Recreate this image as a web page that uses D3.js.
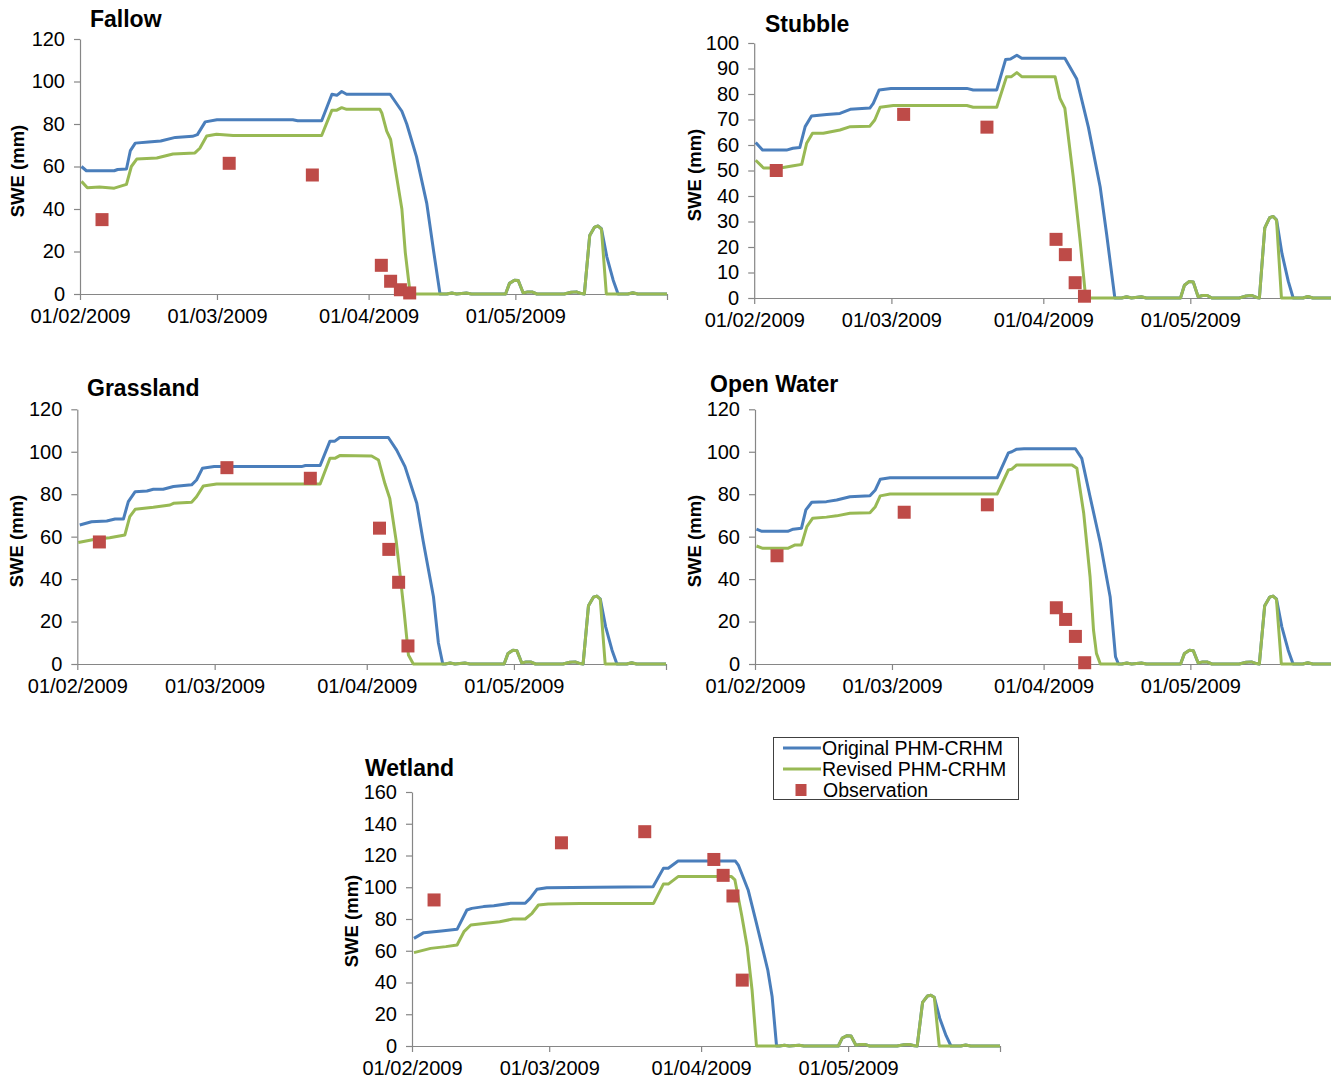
<!DOCTYPE html>
<html>
<head>
<meta charset="utf-8">
<script src="https://cdn.jsdelivr.net/npm/d3@7"></script>
<style>
  html, body { margin: 0; padding: 0; background: #fff; }
  svg { display: block; font-family: "Liberation Sans", Arial, sans-serif; }
</style>
</head>
<body>
<svg id="chart" width="1331" height="1082"></svg>
<script>
// ---------------- DATA (day offset from 01/02/2009, SWE in mm) ----------------
const monthTicks = ["2009-02-01", "2009-03-01", "2009-04-01", "2009-05-01", "2009-06-01"];
const labelledTicks = ["2009-02-01", "2009-03-01", "2009-04-01", "2009-05-01"];

const obsDays = [4.5, 30.5, 47.5, 61.6, 63.5, 65.5, 67.4];

// late-season part shared by all panels (after the main melt)
const tailRevised = [[75,0],[76,0.5],[77,0],[79,0.5],[80,0],[87,0],[87.8,5],[88.8,6.5],[89.6,6.3],[90.6,0.5],[91.5,1],[92.4,1],[93.4,0],[99,0],[100.4,0.8],[101.5,1],[102.5,0.2],[103.1,0],[104.2,27.5],[105.2,31.5],[105.9,32],[106.6,30.5],[107.6,0],[112,0],[113,0.6],[114,0],[120,0]];
const tailOriginal = [[75,0],[76,0.5],[77,0],[79,0.5],[80,0],[87,0],[87.8,5],[88.8,6.5],[89.6,6.3],[90.6,0.5],[91.5,1],[92.4,1],[93.4,0],[99,0],[100.4,0.8],[101.5,1],[102.5,0.2],[103.1,0],[104.2,27.5],[105.2,31.5],[105.9,32],[106.6,30.7],[107.7,17.5],[109,6.5],[110,0],[112,0],[113,0.6],[114,0],[120,0]];

const fallowOriginal = [[0.3,60],[1.3,58],[7,58],[7.7,58.6],[9.5,58.8],[10.3,67.5],[11.3,71],[14,71.5],[16.5,72],[19.5,73.7],[23,74.2],[24,75],[25.6,81],[28,82],[43.5,82],[44.5,81.5],[49.4,81.5],[51.5,94],[52.5,93.5],[53.5,95.3],[54.5,94],[63.4,94],[65.8,86],[66.8,80],[68.8,64.5],[70.9,42.5],[72.3,20],[73.6,0]];
const fallowRevised = [[0.3,53],[1.5,50],[4,50.3],[7,49.8],[9.5,51.6],[10.5,60],[11.6,63.5],[15.7,64],[19,65.9],[23.5,66.4],[24.5,68.6],[25.9,74.4],[27.9,75.2],[31.3,74.6],[49.4,74.6],[51.5,86.5],[52.5,86.5],[53.5,87.7],[54.5,86.9],[61.3,86.9],[61.7,85.2],[62.7,76.6],[63.5,72.7],[64.7,55.5],[65.8,40],[66.5,19.5],[67.5,0]];
const fallowObs = [35, 61.5, 56, 13.5, 6, 2, 0.5];

const stubbleOriginal = [[0.3,61],[1.7,58],[6.6,58],[7.9,58.7],[9.3,59],[10.4,67.2],[11.7,71.4],[14.8,72],[17.5,72.4],[19.6,74],[23.6,74.5],[24.3,76.3],[25.5,81.6],[27.9,82.2],[43.4,82.2],[44.7,81.6],[49.5,81.6],[51.3,93.5],[52.3,93.7],[53.6,95.2],[54.6,94],[63.4,94],[65.8,86],[68.2,67],[70.6,43.6],[71.9,25.4],[73.6,0]];
const stubbleRevised = [[0.3,54],[1.9,51],[5.3,51],[8,51.9],[9.7,52.4],[10.7,60.7],[11.9,64.6],[14.1,64.6],[17.5,65.9],[19.6,67.2],[23.6,67.4],[24.6,69.8],[25.7,74.8],[28.4,75.5],[43.4,75.5],[44.7,74.8],[49.5,74.8],[51.5,86.8],[52.5,86.8],[53.6,88.4],[54.6,86.8],[61.4,86.8],[62.4,78.3],[63.4,74.4],[65.1,47.6],[66.5,22.7],[67.5,3],[67.9,0]];
const stubbleObs = [50, 72, 67, 23, 17, 6, 0.7];

const grasslandOriginal = [[0.5,65.5],[2.9,67],[6,67.4],[7.7,68.3],[9.4,68.3],[10.4,76.5],[11.8,81.2],[14.2,81.5],[15.5,82.3],[17.5,82.3],[19.6,83.6],[23.3,84.4],[24.3,86.7],[25.5,92.2],[27.9,93],[45.7,93],[46.5,93.5],[49.5,93.5],[51.5,105],[52.5,105],[53.5,106.7],[63.4,106.7],[65.1,100.8],[66.8,93],[69.2,75.7],[70.5,58],[72.6,31.7],[73.6,10],[74.5,0]];
const grasslandRevised = [[0.2,57.2],[3.9,58.9],[6.6,59.5],[9.7,60.8],[10.7,69.4],[11.8,72.9],[15.5,73.8],[18.9,74.9],[19.6,75.7],[23.3,76.2],[24.3,78.8],[25.7,83.9],[28.4,84.8],[49.5,84.8],[51.5,96.9],[52.5,96.9],[53.5,98.2],[60,98],[61.4,96.1],[62.7,85],[63.7,78],[65,58],[65.8,42],[66.6,25],[67.5,4.2],[68.5,0]];
const grasslandObs = [57.5, 92.5, 87.5, 64, 54, 38.5, 8.5];

const openWaterOriginal = [[0.3,63.5],[1.4,62.5],[6.7,62.5],[7.8,63.5],[9.5,64],[10.4,72.6],[11.6,76.2],[14.6,76.5],[16.7,77.3],[19.4,78.8],[23.5,79.3],[24.6,82],[25.6,87],[27.6,87.7],[49.5,87.7],[51.8,99.5],[52.5,100],[53.5,101.2],[55,101.4],[65.5,101.4],[66.8,96.9],[68.5,78.8],[70.6,56.9],[72.6,31.7],[73.7,3.4],[74.3,0]];
const openWaterRevised = [[0.3,55.6],[1.6,54.5],[6.7,54.5],[8.2,56.1],[9.5,56.1],[10.6,64.7],[11.8,68.7],[14.6,69.2],[16.7,69.8],[19.4,71],[23.5,71.3],[24.6,74.1],[25.6,79.2],[27.6,80.1],[49.5,80.1],[51.8,91.4],[52.5,91.8],[53.5,93.8],[64.8,93.8],[65.8,92.2],[67.2,71],[68.5,41],[69.2,16],[69.8,5],[70.6,0]];
const openWaterObs = [51, 71.5, 75, 26.5, 21, 13, 0.6];

const wetlandOriginal = [[0.4,67.8],[2.4,71.4],[6,72.4],[9.2,73.5],[11.2,85.7],[12.2,86.7],[14.6,87.8],[16.7,88.3],[20.1,89.9],[23.1,89.9],[24.1,93],[25.5,98.7],[27.5,99.7],[37.7,100],[49.2,100.3],[51.3,111.9],[52.3,112],[54.3,116.5],[66,116.5],[66.6,114],[68.6,98.3],[70.3,77.3],[72.6,48],[73.5,31],[74.4,0]];
const wetlandRevised = [[0.4,58.8],[3.8,61.5],[6.9,62.6],[9.2,63.6],[10.6,72],[12,76.2],[15.1,77.3],[17.9,78.3],[20.6,80],[23.1,80],[24.5,83.6],[25.8,88.8],[27.8,89.4],[34.3,89.8],[49.3,89.8],[51.3,102],[52.3,102],[54.3,106.7],[65.2,106.7],[65.9,104.6],[67.3,82],[68.4,62.6],[69.4,35.3],[70.3,0]];
const wetlandObs = [92, 128, 135, 117.5, 107.5, 94.5, 41.5];

const legendLabels = ["Original PHM-CRHM", "Revised PHM-CRHM", "Observation"];

// ---------------- LAYOUT ----------------
const panels = [
  { title: "Fallow",     orig: fallowOriginal,    rev: fallowRevised,    obs: fallowObs,
    x0: 80,    x1: 667,    yB: 294,  yT: 39,  yMax: 120, yStep: 20, tx: 90,  ty: 27,  lx: 18,  ly: 171 },
  { title: "Stubble",    orig: stubbleOriginal,   rev: stubbleRevised,   obs: stubbleObs,
    x0: 754.2, x1: 1342.2, yB: 298,  yT: 43,  yMax: 100, yStep: 10, tx: 765, ty: 32,  lx: 695, ly: 175 },
  { title: "Grassland",  orig: grasslandOriginal, rev: grasslandRevised, obs: grasslandObs,
    x0: 77.3,  x1: 666,    yB: 664,  yT: 409.3, yMax: 120, yStep: 20, tx: 87, ty: 396, lx: 17,  ly: 541 },
  { title: "Open Water", orig: openWaterOriginal, rev: openWaterRevised, obs: openWaterObs,
    x0: 755,   x1: 1342,   yB: 664,  yT: 409.3, yMax: 120, yStep: 20, tx: 710, ty: 392, lx: 695, ly: 541 },
  { title: "Wetland",    orig: wetlandOriginal,   rev: wetlandRevised,   obs: wetlandObs,
    x0: 412,   x1: 1000,   yB: 1046, yT: 792, yMax: 160, yStep: 20, tx: 365, ty: 776, lx: 352, ly: 921 }
];

const COL_ORIG = "#4a7ebb", COL_REV = "#98b954", COL_OBS = "#be4b48", COL_AXIS = "#868686";
const TICK_FONT = 20;

const svg = d3.select("#chart");
const start = Date.UTC(2009, 1, 1);
const toDate = d => new Date(start + d * 864e5);
const parse = d3.utcParse("%Y-%m-%d");
const fmt = d3.utcFormat("%d/%m/%Y");
const labelled = new Set(labelledTicks);

panels.forEach(p => {
  const x = d3.scaleUtc().domain([parse(monthTicks[0]), parse(monthTicks[monthTicks.length - 1])]).range([p.x0, p.x1]);
  const y = d3.scaleLinear().domain([0, p.yMax]).range([p.yB, p.yT]);
  const g = svg.append("g");

  // y axis
  const ya = g.append("g").attr("transform", `translate(${p.x0},0)`)
    .call(d3.axisLeft(y).tickValues(d3.range(0, p.yMax + 0.001, p.yStep)).tickSize(6).tickSizeOuter(0).tickPadding(9).tickFormat(d3.format("d")));
  // x axis
  const xa = g.append("g").attr("transform", `translate(0,${p.yB})`)
    .call(d3.axisBottom(x).tickValues(monthTicks.map(parse)).tickSize(6).tickSizeOuter(0).tickPadding(9)
      .tickFormat(d => labelled.has(d3.utcFormat("%Y-%m-%d")(d)) ? fmt(d) : ""));
  [ya, xa].forEach(a => {
    a.select(".domain").attr("stroke", COL_AXIS).attr("stroke-width", 1.2);
    a.selectAll(".tick line").attr("stroke", COL_AXIS).attr("stroke-width", 1.2);
    a.selectAll(".tick text").attr("fill", "#000").style("font-size", TICK_FONT + "px").style("font-family", "Liberation Sans, Arial, sans-serif");
  });

  const line = d3.line().x(d => x(toDate(d[0]))).y(d => y(d[1]));
  const origSeries = p.orig.concat(tailOriginal);
  const revSeries = p.rev.concat(tailRevised);

  g.append("path").datum(origSeries).attr("d", line)
    .attr("fill", "none").attr("stroke", COL_ORIG).attr("stroke-width", 3).attr("stroke-linejoin", "round");
  g.append("path").datum(revSeries).attr("d", line)
    .attr("fill", "none").attr("stroke", COL_REV).attr("stroke-width", 3).attr("stroke-linejoin", "round");

  const s = 13;
  g.selectAll("rect.obs").data(p.obs.map((v, i) => [obsDays[i], v])).enter().append("rect")
    .attr("class", "obs")
    .attr("x", d => x(toDate(d[0])) - s / 2).attr("y", d => y(d[1]) - s / 2)
    .attr("width", s).attr("height", s).attr("fill", COL_OBS);

  // title
  g.append("text").attr("x", p.tx).attr("y", p.ty).text(p.title)
    .style("font-size", "23px").style("font-weight", "bold").attr("fill", "#000");
  // y label
  g.append("text").attr("transform", `translate(${p.lx},${p.ly}) rotate(-90)`)
    .attr("text-anchor", "middle").attr("dy", "0.35em").text("SWE (mm)")
    .style("font-size", "18.5px").style("font-weight", "bold").attr("fill", "#000");
});

// legend
const lg = svg.append("g");
lg.append("rect").attr("x", 773.5).attr("y", 737.5).attr("width", 245).attr("height", 62)
  .attr("fill", "#fff").attr("stroke", "#404040").attr("stroke-width", 1);
const rows = [748, 769, 790];
[COL_ORIG, COL_REV].forEach((c, i) => {
  lg.append("line").attr("x1", 783).attr("x2", 821).attr("y1", rows[i]).attr("y2", rows[i])
    .attr("stroke", c).attr("stroke-width", 3);
});
lg.append("rect").attr("x", 795.5).attr("y", rows[2] - 6).attr("width", 11).attr("height", 12).attr("fill", COL_OBS);
legendLabels.forEach((t, i) => {
  lg.append("text").attr("x", i === 2 ? 823 : 822).attr("y", rows[i]).attr("dy", "0.35em").text(t)
    .style("font-size", "19.5px").attr("fill", "#000");
});
</script>
</body>
</html>
